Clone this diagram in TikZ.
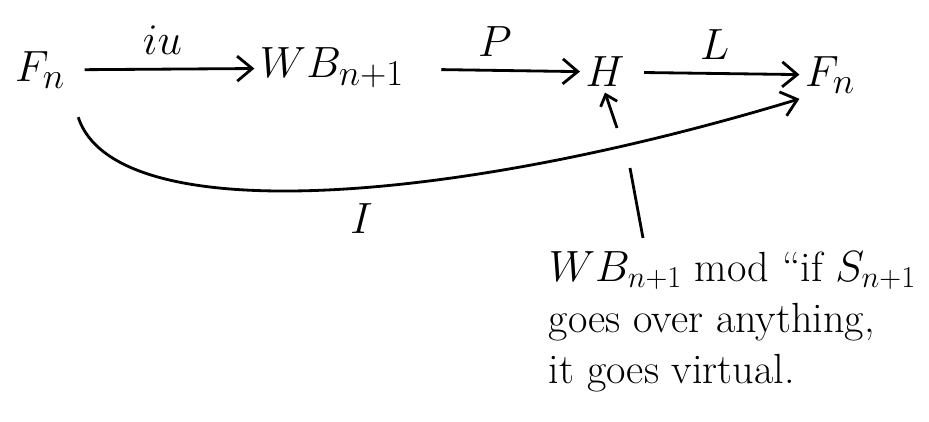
\documentclass[tikz,border=0pt]{standalone}
\usepackage{amsmath}
\usetikzlibrary{arrows.meta,positioning}
\tikzset{
  obj/.style={inner sep=3pt,font=\fontsize{28}{32}\selectfont},
  marr/.style={-{Straight Barb[length=3mm,width=5mm]},line width=1.6pt,shorten <=8pt},
  sarr/.style={-{Straight Barb[length=2mm,width=3.5mm]},line width=1.6pt},
  mline/.style={line width=1.6pt},
  mlab/.style={font=\fontsize{24}{28}\selectfont},
  note/.style={align=left,inner sep=2pt,font=\fontsize{24}{29}\selectfont}
}

\begin{document}
\begin{tikzpicture}
  \useasboundingbox (0,0) rectangle (18.58,-8.44);
  \node[obj] (fl) at (0.8,-1.4) {$F_n$};
  \node[obj] (wb) at (6.64,-1.36) {$WB_{n+1}$};
  \node[obj] (h) at (12.1,-1.44) {$H$};
  \node[obj] (fr) at (16.6,-1.5) {$F_n$};
  \draw[marr] (fl) -- node[mlab,above=4pt] (iu) {$iu$} (wb);
  \draw[marr,shorten <=18pt] (wb) -- node[mlab,above=4pt] (p) {$P$} (h);
  \draw[marr] (h) -- node[mlab,above=4pt] (l) {$L$} (fr);
  \draw[marr,shorten <=14pt] (fl.south east) .. controls (2.3,-4.6) and (9,-4.1) .. node[mlab,pos=0.55,below=6pt] (i) {$I$} (fr.south west);
  % remark about H
  \node[note,anchor=north west] (rem) at (10.9,-4.95) {$WB_{n+1}$ mod ``if $S_{n+1}$\\ goes over anything,\\ it goes virtual.};
  \coordinate (lb) at (12.86,-4.76);
  \coordinate (lt) at (12.6,-3.36);
  \coordinate (ab) at (12.34,-2.56);
  \draw[mline] (lb) -- (lt);
  \draw[sarr] (ab) -- (h.south);
\end{tikzpicture}
\end{document}
